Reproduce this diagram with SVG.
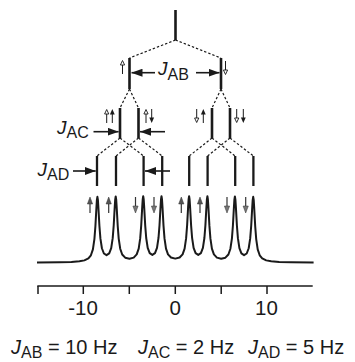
<svg xmlns="http://www.w3.org/2000/svg" width="355" height="362" viewBox="0 0 355 362">
<style>
.ln{stroke:#1a1a1a;stroke-width:2.6;fill:none}
.ln3{stroke:#1a1a1a;stroke-width:2.3;fill:none}
.dash{stroke:#1a1a1a;stroke-width:1.2;stroke-dasharray:2.4 2;fill:none}
.ja{stroke:#1a1a1a;stroke-width:1.6;fill:none;marker-end:url(#ah)}
.t{font-family:"Liberation Sans",Arial,Helvetica,sans-serif;fill:#1a1a1a}
.j{font-style:italic}
.spec{stroke:#1a1a1a;stroke-width:2;fill:none;stroke-linejoin:round}
.ax{stroke:#1a1a1a;stroke-width:1.5;fill:none}
.sh{stroke:#1a1a1a;stroke-width:1}
.ssh{stroke:#333;stroke-width:1.2}
</style>
<defs>
<marker id="ah" viewBox="0 0 11 8" refX="11" refY="4" markerWidth="11" markerHeight="8" orient="auto" markerUnits="userSpaceOnUse"><path d="M0,0 L11,4 L0,8 Z" fill="#1a1a1a"/></marker>
<g id="uo"><line class="sh" x1="0" y1="5" x2="0" y2="14"/><path d="M0,0.5 L2.1,5 L-2.1,5 Z" fill="#fff" stroke="#1a1a1a" stroke-width="0.9"/></g>
<g id="uf"><line class="sh" x1="0" y1="5" x2="0" y2="14"/><path d="M0,0 L2.4,5.6 L-2.4,5.6 Z" fill="#1a1a1a"/></g>
<g id="do"><line class="sh" x1="0" y1="0" x2="0" y2="9"/><path d="M0,13.5 L2.1,9 L-2.1,9 Z" fill="#fff" stroke="#1a1a1a" stroke-width="0.9"/></g>
<g id="df"><line class="sh" x1="0" y1="0" x2="0" y2="9"/><path d="M0,14 L2.4,8.4 L-2.4,8.4 Z" fill="#1a1a1a"/></g>
<g id="su"><line class="ssh" x1="0" y1="6" x2="0" y2="16"/><path d="M0,0 L2.6,7 L-2.6,7 Z" fill="#555" stroke="#333" stroke-width="0.5"/></g>
<g id="sd"><line class="ssh" x1="0" y1="0" x2="0" y2="10"/><path d="M0,16 L2.6,9 L-2.6,9 Z" fill="#777" stroke="#333" stroke-width="0.5"/></g>
</defs>

<g id="connectors">
<line class="dash" x1="175.5" y1="40" x2="129.5" y2="58"/>
<line class="dash" x1="175.5" y1="40" x2="221" y2="58"/>
<line class="dash" x1="129.5" y1="89" x2="120" y2="108"/>
<line class="dash" x1="129.5" y1="89" x2="138.5" y2="108"/>
<line class="dash" x1="221" y1="89" x2="212" y2="108"/>
<line class="dash" x1="221" y1="89" x2="230" y2="108"/>
<line class="dash" x1="120" y1="138" x2="97" y2="156"/>
<line class="dash" x1="120" y1="138" x2="143.6" y2="156"/>
<line class="dash" x1="138.5" y1="138" x2="116" y2="156"/>
<line class="dash" x1="138.5" y1="138" x2="162.2" y2="156"/>
<line class="dash" x1="212" y1="138" x2="189.2" y2="156"/>
<line class="dash" x1="212" y1="138" x2="235.2" y2="156"/>
<line class="dash" x1="230" y1="138" x2="207.6" y2="156"/>
<line class="dash" x1="230" y1="138" x2="253.4" y2="156"/>
</g>

<g id="n-top"><line class="ln" x1="175.5" y1="10" x2="175.5" y2="40"/></g>
<g id="n-l1-a"><line class="ln" x1="129.5" y1="58" x2="129.5" y2="89"/><use href="#uo" x="122.5" y="60"/></g>
<g id="n-l1-b"><line class="ln" x1="221" y1="58" x2="221" y2="89"/><use href="#do" x="225.5" y="61"/></g>
<g id="n-l2-a"><line class="ln" x1="120" y1="108" x2="120" y2="138"/><use href="#uo" x="106.7" y="109"/><use href="#uf" x="112.3" y="109"/></g>
<g id="n-l2-b"><line class="ln" x1="138.5" y1="108" x2="138.5" y2="138"/><use href="#uo" x="146" y="109"/><use href="#df" x="151.7" y="109"/></g>
<g id="n-l2-c"><line class="ln" x1="212" y1="108" x2="212" y2="138"/><use href="#do" x="196.7" y="109"/><use href="#uf" x="203.3" y="109"/></g>
<g id="n-l2-d"><line class="ln" x1="230" y1="108" x2="230" y2="138"/><use href="#do" x="236.7" y="109"/><use href="#df" x="243.3" y="109"/></g>
<g id="n-l3">
<line class="ln3" x1="97" y1="156" x2="97" y2="186"/>
<line class="ln3" x1="116" y1="156" x2="116" y2="186"/>
<line class="ln3" x1="143.6" y1="156" x2="143.6" y2="186"/>
<line class="ln3" x1="162.2" y1="156" x2="162.2" y2="186"/>
<line class="ln3" x1="189.2" y1="156" x2="189.2" y2="186"/>
<line class="ln3" x1="207.6" y1="156" x2="207.6" y2="186"/>
<line class="ln3" x1="235.2" y1="156" x2="235.2" y2="186"/>
<line class="ln3" x1="253.4" y1="156" x2="253.4" y2="186"/>
</g>

<g id="coupling-labels">
<line class="ja" x1="155" y1="72.7" x2="131.5" y2="72.7"/>
<line class="ja" x1="196" y1="72.7" x2="219.5" y2="72.7"/>
<text class="t" x="158" y="75.3"><tspan class="j" font-size="19">J</tspan><tspan font-size="16" dy="4.3">AB</tspan></text>
<line class="ja" x1="93.5" y1="131.7" x2="118.6" y2="131.7"/>
<line class="ja" x1="165" y1="131.7" x2="140" y2="131.7"/>
<text class="t" x="57" y="133.5"><tspan class="j" font-size="19">J</tspan><tspan font-size="16" dy="4">AC</tspan></text>
<line class="ja" x1="73" y1="171" x2="95.7" y2="171"/>
<line class="ja" x1="170" y1="171" x2="145" y2="171"/>
<text class="t" x="37.5" y="176.2"><tspan class="j" font-size="19">J</tspan><tspan font-size="16" dy="3.5">AD</tspan></text>
</g>

<g id="spin-arrows">
<use href="#su" x="90" y="197"/><use href="#su" x="108.7" y="197"/>
<use href="#sd" x="135.5" y="197"/><use href="#sd" x="154" y="197"/>
<use href="#su" x="181.3" y="197"/><use href="#su" x="200" y="197"/>
<use href="#sd" x="227" y="197"/><use href="#sd" x="245.7" y="197"/>
</g>

<g id="spectrum">
<polyline class="spec" points="37,262.47 59.4,262.26 71.4,261.93 79.4,261.32 84.4,260.37 88.4,258.4 90.9,255.29 92.9,249.35 94.4,239.11 95.4,226.24 96.4,207.97 96.9,199.9 97.4,196.79 97.9,199.9 98.4,207.74 99.4,225.78 100.4,238.43 101.9,248.25 103.9,253.49 106.55,255.18 109.2,253.39 111.2,248.08 112.7,238.19 113.7,225.51 114.7,207.42 115.2,199.6 115.7,196.4 116.2,199.6 116.7,207.53 117.7,225.75 118.7,238.57 120.2,248.72 122.2,254.5 125.2,257.66 129.45,258.68 133.7,257.6 136.7,254.41 138.7,248.61 140.2,238.45 141.2,225.63 142.2,207.39 142.7,199.5 143.2,196.26 143.7,199.5 144.2,207.24 145.2,225.32 146.2,237.98 147.7,247.85 149.7,253.13 152.35,254.88 155,253.12 157,247.83 158.5,237.96 159.5,225.3 160.5,207.21 161,199.5 161.5,196.23 162,199.5 162.5,207.36 163.5,225.59 164.5,238.42 166,248.57 168,254.36 171,257.55 175.3,258.61 179.6,257.55 182.6,254.36 184.6,248.57 186.1,238.42 187.1,225.59 188.1,207.36 188.6,199.5 189.1,196.23 189.6,199.5 190.1,207.21 191.1,225.3 192.1,237.96 193.6,247.83 195.6,253.12 198.25,254.88 200.9,253.13 202.9,247.85 204.4,237.98 205.4,225.32 206.4,207.24 206.9,199.5 207.4,196.26 207.9,199.5 208.4,207.39 209.4,225.63 210.4,238.45 211.9,248.61 213.9,254.41 216.9,257.6 221.15,258.68 225.4,257.66 228.4,254.5 230.4,248.72 231.9,238.57 232.9,225.75 233.9,207.53 234.4,199.6 234.9,196.4 235.4,199.6 235.9,207.42 236.9,225.51 237.9,238.19 239.4,248.08 241.4,253.39 244.05,255.18 246.7,253.49 248.7,248.25 250.2,238.43 251.2,225.78 252.2,207.74 252.7,199.9 253.2,196.79 253.7,199.9 254.2,207.97 255.2,226.24 256.2,239.11 257.7,249.35 259.7,255.29 262.2,258.4 266.2,260.37 271.2,261.32 279.2,261.93 291.2,262.26 313.6,262.47"/>
</g>

<g id="axis">
<line class="ax" x1="37.3" y1="286" x2="312.7" y2="286"/>
<line class="ax" x1="38" y1="286" x2="38" y2="294"/>
<line class="ax" x1="83.3" y1="286" x2="83.3" y2="294"/>
<line class="ax" x1="129.3" y1="286" x2="129.3" y2="294"/>
<line class="ax" x1="175.3" y1="286" x2="175.3" y2="294"/>
<line class="ax" x1="221.2" y1="286" x2="221.2" y2="294"/>
<line class="ax" x1="267" y1="286" x2="267" y2="294"/>
<text class="t" x="83" y="315" font-size="20.5" text-anchor="middle">-10</text>
<text class="t" x="175.3" y="315" font-size="20.5" text-anchor="middle">0</text>
<text class="t" x="266.5" y="315" font-size="20.5" text-anchor="middle">10</text>
</g>

<g id="caption" font-size="20">
<text class="t" x="11" y="354"><tspan class="j">J</tspan><tspan font-size="16" dy="4">AB</tspan><tspan dy="-4"> = 10 Hz</tspan></text>
<text class="t" x="138" y="354"><tspan class="j">J</tspan><tspan font-size="16" dy="4">AC</tspan><tspan dy="-4"> = 2 Hz</tspan></text>
<text class="t" x="248" y="354"><tspan class="j">J</tspan><tspan font-size="16" dy="4">AD</tspan><tspan dy="-4"> = 5 Hz</tspan></text>
</g>
</svg>
